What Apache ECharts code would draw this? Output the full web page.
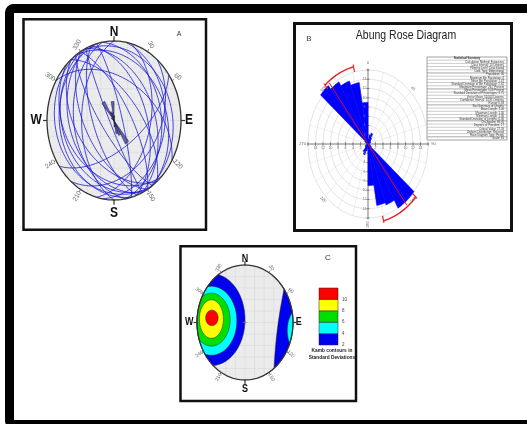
<!DOCTYPE html>
<html>
<head>
<meta charset="utf-8">
<script src="https://cdn.jsdelivr.net/npm/echarts@6/dist/echarts.min.js"></script>
<style>
  html, body { margin: 0; padding: 0; background: #fff; }
  #main { width: 527px; height: 424px; }
</style>
</head>
<body>
<div id="main"></div>
<script>
// ---- A: planes (right hand rule strike, dip) ----
const planeStrike = [145, 150, 155, 140, 150, 160, 145, 165, 170, 180, 155, 135,
                     330, 325, 335, 340, 320, 330, 350, 10, 15, 40, 55, 300, 345];
const planeDip = [15, 25, 35, 45, 55, 65, 75, 20, 40, 50, 85, 30,
                  15, 25, 40, 50, 60, 70, 30, 25, 45, 35, 60, 45, 80];
// small rose in the middle of A (bin start, relative length)
const roseABins = [300, 320, 330, 340, 350, 0, 140, 150, 160, 170];
const roseAVals = [0.05, 0.28, 0.12, 0.10, 0.24, 0.06, 0.34, 0.20, 0.17, 0.08];
const netDegLabels = [30, 60, 120, 150, 210, 240, 300, 330];
const netDegRot = [-60, -35, -45, -60, 60, 35, -35, 60];

// ---- B: rose diagram, 10 degree classes ----
const roseBins = [0, 10, 20, 30, 40, 50, 60, 70, 80, 90, 100, 110, 120, 130, 140, 150, 160, 170,
                  180, 190, 200, 210, 220, 230, 240, 250, 260, 270, 280, 290, 300, 310, 320, 330, 340, 350];
const roseCounts = [1, 2, 2.5, 1.5, 1, 0, 0.8, 0, 0, 0, 0, 0.6, 1, 16, 16, 14, 13.5, 9,
                    0, 1.5, 2.5, 2, 1, 0, 0.8, 0, 0, 0, 0, 0.6, 1, 16.5, 15.5, 14.5, 13.5, 9];
const ringValues = [2, 4, 6, 8, 10, 12, 14, 16];
const roseMax = 16;
const vectorMean = 322;
const confArcs = [[318, 347], [132, 166]];
const roseDirLabels = ['0', '45', '90', '135', '180', '225', '270', '315'];
const summaryRows = [
  'Statistical Summary', 'Calculation Method: Frequency', 'Class Interval: 10 Degrees',
  'Filtering Level: Deactivated', 'Data Type: Bidirectional', 'Population: 30',
  'Maximum Bin Population: 8', 'Mean Bin Population: 1.67', 'Standard Deviation of Bin Population: 2.62',
  'Maximum Percentage: 26.7 Percent', 'Mean Percentage: 5.56 Percent', 'Standard Deviation of Percentages: 8.75',
  'Vector Mean: 324.63 Degrees', 'Confidence Interval: 14.91 Degrees', 'R-mag: 0.83',
  'Stat Summary of Lengths', 'Mean Length: 1.00', 'Maximum Length: 1.00', 'Minimum Length: 1.00',
  'Standard Deviation of Lengths: 0.00', 'Chi-Square: 89.31', 'Degrees of Freedom: 17',
  'Critical Value: 27.59', 'Uniform Distribution: Rejected', 'Rose Diagram Type: Petals', 'Scale: 16'
];

// ---- C: Kamb contours (ellipses in net units: cx, cy, rx, ry, rotation) ----
const contourLevels = [2, 4, 6, 8, 10];
const contourColors = ['#0000f0', '#00ffff', '#00e000', '#ffff00', '#ff0000'];
const westCx = [-0.70, -0.70, -0.70, -0.70, -0.69];
const westCy = [0.05, 0.03, 0.05, 0.06, 0.08];
const westRx = [0.70, 0.53, 0.39, 0.25, 0.13];
const westRy = [0.80, 0.60, 0.46, 0.335, 0.135];
const eastCx = [1.64, 1.2];
const eastCy = [-0.10, -0.14];
const eastRx = [0.95, 0.32];
const eastRy = [2.6, 0.42];
const eastRot = [-10, 0];

const RAD = Math.PI / 180;
const PAD = 1.3;
const FONT = 'Liberation Sans, Arial, sans-serif';

function polar(az, r) {
  return [r * Math.sin(az * RAD), r * Math.cos(az * RAD)];
}
// equal area, lower hemisphere
function project(trend, plunge) {
  const r = Math.SQRT2 * Math.sin((90 - plunge) * RAD / 2);
  return polar(trend, r);
}
function greatCircle(strike, dip) {
  const s = strike * RAD, dd = (strike + 90) * RAD, d = dip * RAD;
  const pts = [];
  for (let k = 0; k <= 120; k++) {
    const t = Math.PI * k / 120;
    const e = Math.cos(t) * Math.sin(s) + Math.sin(t) * Math.sin(dd) * Math.cos(d);
    const n = Math.cos(t) * Math.cos(s) + Math.sin(t) * Math.cos(dd) * Math.cos(d);
    const z = Math.sin(t) * Math.sin(d);
    pts.push(project(Math.atan2(e, n) / RAD, Math.asin(Math.min(1, z)) / RAD));
  }
  return pts;
}
function arcPts(a0, a1, r, step) {
  const pts = [];
  const n = Math.round((a1 - a0) / step);
  for (let k = 0; k <= n; k++) pts.push(polar(a0 + k * step, r));
  return pts;
}
function ellipsePts(cx, cy, rx, ry, rot) {
  const c = Math.cos(rot * RAD), s = Math.sin(rot * RAD), pts = [];
  for (let k = 0; k < 240; k++) {
    const t = 2 * Math.PI * k / 240;
    let x = cx + rx * Math.cos(t) * c - ry * Math.sin(t) * s;
    let y = cy + rx * Math.cos(t) * s + ry * Math.sin(t) * c;
    const r = Math.hypot(x, y);
    if (r > 1) { x /= r; y /= r; } // keep inside the primitive
    pts.push([x, y]);
  }
  return pts;
}
function chords(step) {
  const out = [];
  for (let v = -1 + step; v < 1 - 1e-9; v += step) {
    const h = Math.sqrt(1 - v * v);
    out.push([[v, -h], [v, h]]);
    out.push([[-h, v], [h, v]]);
  }
  return out;
}
function netGrid(cx, cy, rx, ry) {
  return { left: cx - rx * PAD, top: cy - ry * PAD, width: 2 * rx * PAD, height: 2 * ry * PAD };
}

// shapes: [{pts, fill, stroke, width, closed, opacity}]
function shapeSeries(g, shapes, z) {
  return {
    type: 'custom', coordinateSystem: 'cartesian2d', xAxisIndex: g, yAxisIndex: g, z: z, silent: true,
    data: shapes.map(() => [0, 0]),
    renderItem(params, api) {
      const s = shapes[params.dataIndex];
      return {
        type: s.closed ? 'polygon' : 'polyline',
        shape: { points: s.pts.map(p => api.coord(p)) },
        style: { fill: s.fill || null, stroke: s.stroke || null, lineWidth: s.width || 1, opacity: s.opacity == null ? 1 : s.opacity }
      };
    }
  };
}
function textSeries(g, items, z) {
  return {
    type: 'custom', coordinateSystem: 'cartesian2d', xAxisIndex: g, yAxisIndex: g, z: z, silent: true,
    data: items.map(it => [it.x, it.y]),
    renderItem(params, api) {
      const it = items[params.dataIndex];
      const p = api.coord([it.x, it.y]);
      return {
        type: 'text', x: p[0], y: p[1], rotation: (it.rot || 0) * RAD, scaleY: it.sy || 1,
        style: { text: it.text, fill: it.color || '#333', fontSize: it.size || 7, fontWeight: it.weight || 'normal',
                 fontFamily: FONT, align: 'center', verticalAlign: 'middle' }
      };
    }
  };
}
function netBase(tickLen, bigSize, degSize, degR) {
  const circle = arcPts(0, 360, 1, 2);
  const base = [{ pts: circle, fill: '#ebebeb', closed: true }];
  chords(0.2).forEach(c => base.push({ pts: c, stroke: '#d7d7d7', width: 0.5 }));
  const rim = [{ pts: circle, stroke: '#333', width: 1.3, closed: true }];
  [0, 90, 180, 270].forEach(a => rim.push({ pts: [polar(a, 1), polar(a, 1 + tickLen)], stroke: '#333', width: 1.2 }));
  [30, 60, 120, 150, 210, 240, 300, 330].forEach(a => rim.push({ pts: [polar(a, 1), polar(a, 1 + tickLen * 0.6)], stroke: '#555', width: 0.8 }));
  const texts = [
    { x: 0, y: 1.11, text: 'N' }, { x: 0, y: -1.16, text: 'S' },
    { x: -1.16, y: 0, text: 'W' }, { x: 1.12, y: 0, text: 'E' }
  ].map(t => Object.assign(t, { size: bigSize, weight: 'bold', color: '#111', sy: 1.15 }));
  netDegLabels.forEach((a, i) => {
    const p = polar(a, degR);
    texts.push({ x: p[0], y: p[1], text: String(a), rot: netDegRot[i], size: degSize, color: '#666' });
  });
  return { base: base, rim: rim, texts: texts };
}

// ---------- panel A ----------
const netA = netBase(0.06, 12, 6.5, 1.1);
const circlesA = planeStrike.map((s, i) => ({
  type: 'line', xAxisIndex: 0, yAxisIndex: 0, z: 3, silent: true, showSymbol: false,
  data: greatCircle(s, planeDip[i]),
  lineStyle: { color: '#1a1ad8', width: 1, opacity: 0.8 }
}));
const petalsA = roseABins.map((b, i) => {
  const pts = [[0, 0]].concat(arcPts(b, b + 10, roseAVals[i], 2));
  return { pts: pts, fill: '#4a4a9c', stroke: '#1a1a40', width: 0.6, closed: true, opacity: 0.85 };
});

// ---------- panel B ----------
const ringsB = ringValues.map(v => ({ pts: arcPts(0, 360, v / roseMax, 3), stroke: '#d0d0d0', width: 0.6, closed: true }));
const spokesB = [];
for (let a = 0; a < 360; a += 15) {
  if (a % 90 !== 0) spokesB.push({ pts: [polar(a, 2 / roseMax), polar(a, 1)], stroke: '#dedede', width: 0.5 });
}
const axesB = [
  { pts: [polar(270, 1.02), polar(90, 1.02)], stroke: '#555', width: 0.8 },
  { pts: [polar(0, 1.02), polar(180, 1.02)], stroke: '#555', width: 0.8 }
];
ringValues.forEach(v => {
  const r = v / roseMax, t = 0.025;
  axesB.push({ pts: [[-r, -t], [-r, t]], stroke: '#555', width: 0.6 });
  axesB.push({ pts: [[r, -t], [r, t]], stroke: '#555', width: 0.6 });
  axesB.push({ pts: [[-t, r], [t, r]], stroke: '#555', width: 0.6 });
  axesB.push({ pts: [[-t, -r], [t, -r]], stroke: '#555', width: 0.6 });
});
const petalsB = [];
roseBins.forEach((b, i) => {
  if (roseCounts[i] > 0) {
    petalsB.push({ pts: [[0, 0]].concat(arcPts(b, b + 10, roseCounts[i] / roseMax, 1)), fill: '#0000ff', stroke: '#0000ff', width: 0.6, closed: true });
  }
});
const redB = [{ pts: [polar(vectorMean, 1.05), polar(vectorMean + 180, 1.05)], stroke: '#e01010', width: 1 }];
confArcs.forEach(c => {
  redB.push({ pts: arcPts(c[0], c[1], 1.07, 1), stroke: '#e82020', width: 1.4 });
  redB.push({ pts: [polar(c[0], 1.0), polar(c[0], 1.1)], stroke: '#e82020', width: 1.2 });
  redB.push({ pts: [polar(c[1], 1.0), polar(c[1], 1.1)], stroke: '#e82020', width: 1.2 });
});
const textsB = [];
roseDirLabels.forEach((t, i) => {
  const a = i * 45, p = polar(a, a % 90 === 0 ? 1.09 : 1.06);
  textsB.push({ x: p[0], y: p[1], text: t, size: 4, color: '#666', rot: a % 90 === 0 ? (a === 180 ? 90 : 0) : -a + (a > 180 ? 180 : 0) });
});
ringValues.slice(0, 7).forEach(v => {
  const r = v / roseMax;
  textsB.push({ x: -r, y: -0.05, text: String(v), size: 3.5, color: '#777' });
  textsB.push({ x: r, y: -0.05, text: String(v), size: 3.5, color: '#777' });
  textsB.push({ x: -0.06, y: r, text: String(v), size: 3.5, color: '#777' });
  textsB.push({ x: -0.06, y: -r, text: String(v), size: 3.5, color: '#777' });
});

// ---------- panel C ----------
const netC = netBase(0.07, 9, 5, 1.1);
const contoursC = [];
contourLevels.forEach((lv, i) => {
  contoursC.push({ pts: ellipsePts(westCx[i], westCy[i], westRx[i], westRy[i], 0), fill: contourColors[i], stroke: '#1a1a1a', width: 0.5, closed: true });
});
eastCx.forEach((cx, i) => {
  contoursC.push({ pts: ellipsePts(cx, eastCy[i], eastRx[i], eastRy[i], eastRot[i]), fill: contourColors[i], stroke: '#1a1a1a', width: 0.5, closed: true });
});
const crossC = [{ pts: [[-0.05, 0], [0.05, 0]], stroke: '#777', width: 0.6 }, { pts: [[0, -0.04], [0, 0.04]], stroke: '#777', width: 0.6 }];

// color bar
const barData = contourLevels.map((lv, i) => [0, lv, lv + 2, i]);

const gA = netGrid(114, 120.5, 67, 79.5);
const gB = netGrid(368, 144, 60, 74);
const gC = netGrid(245, 322.5, 48, 57.5);
const hidden = { min: -PAD, max: PAD, type: 'value', show: false };

// statistical summary table
const tbl = { x: 427, y: 57, w: 80, h: 83 };
const rowH = tbl.h / summaryRows.length;
const tableEls = [{ type: 'rect', shape: { x: tbl.x, y: tbl.y, width: tbl.w, height: tbl.h }, style: { fill: '#fff', stroke: '#666', lineWidth: 0.6 } }];
summaryRows.forEach((t, i) => {
  if (i > 0) tableEls.push({ type: 'line', shape: { x1: tbl.x, y1: tbl.y + i * rowH, x2: tbl.x + tbl.w, y2: tbl.y + i * rowH }, style: { stroke: i % 5 === 0 ? '#555' : '#999', lineWidth: 0.5 } });
  tableEls.push({ type: 'text', x: i === 0 ? tbl.x + tbl.w / 2 : tbl.x + tbl.w - 3, y: tbl.y + (i + 0.5) * rowH,
    style: { text: t, fontSize: 2.8, fontWeight: i === 0 ? 'bold' : 'normal', fill: '#333', fontFamily: FONT,
             align: i === 0 ? 'center' : 'right', verticalAlign: 'middle' } });
});

const chart = echarts.init(document.getElementById('main'), null, { renderer: 'canvas' });
chart.setOption({
  animation: false,
  backgroundColor: '#fff',
  grid: [
    gA, gB, gC,
    { left: 319, top: 288, width: 19, height: 57 }
  ],
  xAxis: [hidden, hidden, hidden, { type: 'value', min: 0, max: 1, show: false }].map((a, i) => Object.assign({}, a, { gridIndex: i })),
  yAxis: [hidden, hidden, hidden].map((a, i) => Object.assign({}, a, { gridIndex: i })).concat([{
    type: 'value', gridIndex: 3, min: 2, max: 12, interval: 2, position: 'right',
    axisLine: { show: false }, axisTick: { show: false }, splitLine: { show: false },
    axisLabel: { fontSize: 4.5, color: '#444', margin: 4, fontFamily: FONT, formatter: v => (v === 12 ? '' : v) }
  }]),
  graphic: [
    { type: 'rect', shape: { x: 9.5, y: 8.5, width: 600, height: 416, r: 4 }, style: { fill: 'none', stroke: '#000', lineWidth: 9 } },
    { type: 'rect', shape: { x: 23.5, y: 19.3, width: 182.5, height: 210.5 }, style: { fill: 'none', stroke: '#111', lineWidth: 2.5 } },
    { type: 'rect', shape: { x: 294.5, y: 23.5, width: 217, height: 207 }, style: { fill: 'none', stroke: '#111', lineWidth: 3 } },
    { type: 'rect', shape: { x: 180.5, y: 246.3, width: 175.5, height: 154.7 }, style: { fill: 'none', stroke: '#111', lineWidth: 2.5 } },
    { type: 'text', x: 179, y: 34, style: { text: 'A', fontSize: 7, fill: '#333', fontFamily: FONT, align: 'center', verticalAlign: 'middle' } },
    { type: 'text', x: 309, y: 39, style: { text: 'B', fontSize: 8, fill: '#444', fontFamily: FONT, align: 'center', verticalAlign: 'middle' } },
    { type: 'text', x: 406, y: 42, scaleY: 1.15, originY: 42, style: { text: 'Abung Rose Diagram', fontSize: 10.5, fill: '#222', fontFamily: FONT, align: 'center', verticalAlign: 'middle' } },
    { type: 'text', x: 328, y: 258, style: { text: 'C', fontSize: 8, fill: '#333', fontFamily: FONT, align: 'center', verticalAlign: 'middle' } },
    { type: 'text', x: 332, y: 351, style: { text: 'Kamb contours in', fontSize: 4.8, fontWeight: 'bold', fill: '#222', fontFamily: FONT, align: 'center', verticalAlign: 'middle' } },
    { type: 'text', x: 332, y: 358, style: { text: 'Standard Deviations', fontSize: 4.8, fontWeight: 'bold', fill: '#222', fontFamily: FONT, align: 'center', verticalAlign: 'middle' } },
    { type: 'group', children: tableEls }
  ],
  series: [
    // A
    shapeSeries(0, netA.base, 1),
    ...circlesA,
    shapeSeries(0, petalsA, 4),
    shapeSeries(0, netA.rim, 5),
    textSeries(0, netA.texts, 6),
    // B
    shapeSeries(1, ringsB.concat(spokesB), 1),
    shapeSeries(1, axesB, 2),
    shapeSeries(1, petalsB, 3),
    shapeSeries(1, redB, 4),
    textSeries(1, textsB, 5),
    // C
    shapeSeries(2, netC.base, 1),
    shapeSeries(2, contoursC, 2),
    shapeSeries(2, crossC, 3),
    shapeSeries(2, netC.rim, 4),
    textSeries(2, netC.texts, 5),
    // color bar
    {
      type: 'custom', coordinateSystem: 'cartesian2d', xAxisIndex: 3, yAxisIndex: 3, z: 3, silent: true,
      data: barData,
      renderItem(params, api) {
        const p1 = api.coord([0, api.value(2)]);
        const p2 = api.coord([1, api.value(1)]);
        return { type: 'rect', shape: { x: p1[0], y: p1[1], width: p2[0] - p1[0], height: p2[1] - p1[1] },
                 style: { fill: contourColors[api.value(3)], stroke: '#222', lineWidth: 0.5 } };
      }
    }
  ]
});
</script>
</body>
</html>
